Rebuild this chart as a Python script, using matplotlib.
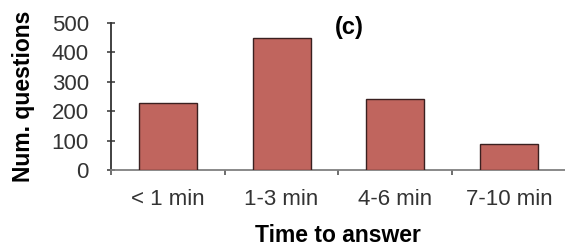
import matplotlib
matplotlib.use("Agg")
import matplotlib.pyplot as plt
import numpy as np

categories = ["< 1 min", "1-3 min", "4-6 min", "7-10 min"]
values = [228, 449, 240, 88]
yticks = [0, 100, 200, 300, 400, 500]

plt.rcParams['font.family'] = ['Liberation Sans', 'DejaVu Sans']

fig = plt.figure(figsize=(5.65, 2.47), dpi=100)
ax = fig.add_axes([0.1965, 0.312, 0.805, 0.595])
x = np.arange(len(categories))
ax.bar(x, values, width=0.51, color="#C0655E", edgecolor="#3a2020", linewidth=1.0, zorder=3)
ax.set_xlim(-0.5, len(categories) - 0.5)
ax.set_ylim(0, 500)
ax.set_yticks(yticks)
ax.set_xticks(x)
ax.set_xticklabels(categories, fontsize=16, color="#333333")
ax.tick_params(axis='x', length=0, pad=14)
ax.set_xticks(np.arange(len(categories)) - 0.5, minor=True)
ax.tick_params(axis='x', which='minor', length=3.5, direction='out', color="#555555", width=1.2)
ax.tick_params(axis='y', labelsize=16, length=6, direction='inout', width=1.2, color="#444444", labelcolor="#333333", pad=13)
for s in ['top', 'right']:
    ax.spines[s].set_visible(False)
ax.spines['left'].set_color("#333333")
ax.spines['left'].set_linewidth(1.3)
ax.spines['bottom'].set_color("#808080")
ax.spines['bottom'].set_linewidth(1.3)
ax.set_xlabel("Time to answer", fontsize=16.5, fontweight='bold', labelpad=10)
ax.set_ylabel("Num. questions", fontsize=16.5, fontweight='bold', labelpad=12)
ax.text(0.523, 0.966, "(c)", transform=ax.transAxes, ha='center', va='center', fontsize=17, fontweight='bold')
fig.savefig("out.png", dpi=100)
